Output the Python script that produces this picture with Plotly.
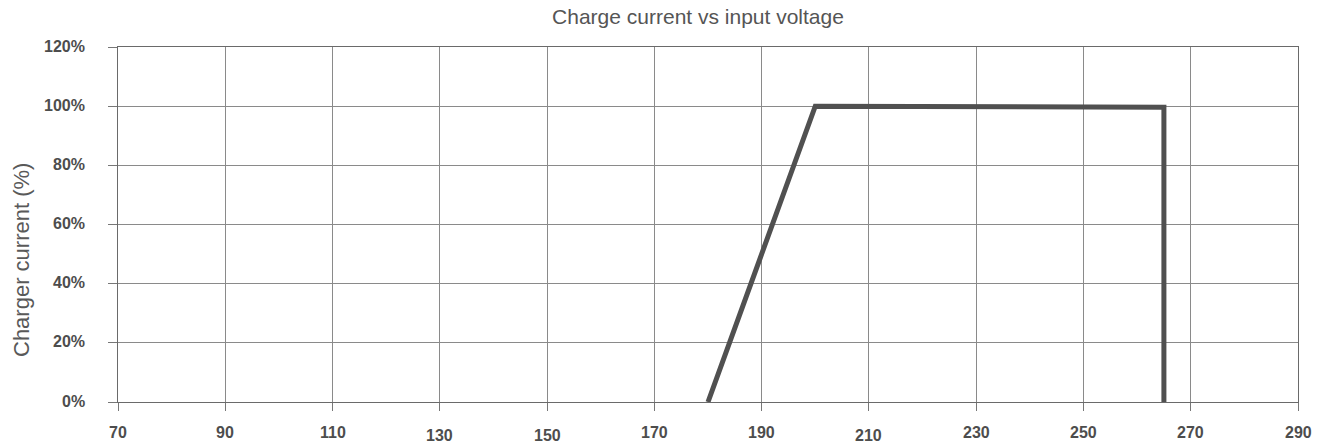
import plotly.graph_objects as go

# ---- data ----
voltage = [180, 200, 265, 265]
current_pct = [0, 100, 99.6, 0]
x_tick_values = [70, 90, 110, 130, 150, 170, 190, 210, 230, 250, 270, 290]
y_tick_values = [0, 20, 40, 60, 80, 100, 120]
y_tick_labels = ["0%", "20%", "40%", "60%", "80%", "100%", "120%"]
title_text = "Charge current vs input voltage"
y_title_text = "Charger current (%)"

# ---- style ----
label_drop = {130: 3, 150: 3, 210: 3}   # vertical stagger of some x labels (px)
tick_color = "#4d4d4d"
font_family = "Liberation Sans, Arial, sans-serif"

fig = go.Figure()
fig.add_trace(go.Scatter(
    x=voltage, y=current_pct, mode="lines",
    line=dict(color="#505050", width=5),
    hoverinfo="skip", showlegend=False,
))

annotations = []
for v in x_tick_values:
    annotations.append(dict(
        x=v, xref="x", y=0, yref="paper", yanchor="middle", xanchor="center",
        yshift=-30 - label_drop.get(v, 0), text=str(v), showarrow=False,
        font=dict(family=font_family, size=16, color=tick_color, weight="bold"),
    ))
for v, lab in zip(y_tick_values, y_tick_labels):
    annotations.append(dict(
        x=0, xref="paper", xanchor="right", xshift=-31,
        y=v, yref="y", yanchor="middle", yshift=1,
        text=lab, showarrow=False,
        font=dict(family=font_family, size=16, color=tick_color, weight="bold"),
    ))
annotations.append(dict(
    x=0, xref="paper", xshift=-97, xanchor="center",
    y=0.40, yref="paper", yanchor="middle",
    text=y_title_text, textangle=-90, showarrow=False,
    font=dict(family=font_family, size=22, color="#595959"),
))

fig.update_layout(
    width=1324, height=447,
    margin=dict(l=118, r=26, t=47, b=45),
    paper_bgcolor="white", plot_bgcolor="white",
    title=dict(text=title_text, xref="container", x=698 / 1324, xanchor="center",
               yref="container", y=1 - 17 / 447, yanchor="middle",
               font=dict(family=font_family, size=21, color="#555555")),
    annotations=annotations,
    xaxis=dict(range=[70, 290], tickvals=x_tick_values, showticklabels=False,
               showgrid=True, gridcolor="#8a8a8a", gridwidth=1,
               ticks="outside", ticklen=8, tickcolor="#777777",
               showline=True, linecolor="#6a6a6a", linewidth=1, mirror=True,
               zeroline=False),
    yaxis=dict(range=[0, 120], tickvals=y_tick_values, showticklabels=False,
               showgrid=True, gridcolor="#8a8a8a", gridwidth=1,
               ticks="outside", ticklen=9, tickcolor="#777777",
               showline=True, linecolor="#6a6a6a", linewidth=1, mirror=True,
               zeroline=False),
)

fig.write_html(
    "out.html",
    config={"displayModeBar": False},
    post_script="document.body.style.margin='0';document.body.style.overflow='hidden';",
)
